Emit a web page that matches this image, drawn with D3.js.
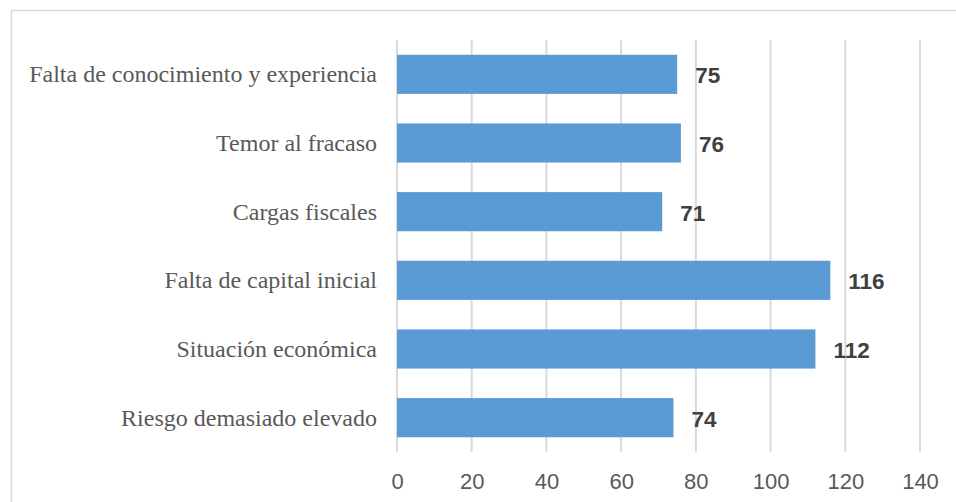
<!DOCTYPE html>
<html>
<head>
<meta charset="utf-8">
<script src="https://cdn.jsdelivr.net/npm/d3@7"></script>
<style>
  html, body { margin: 0; padding: 0; background: #fff; }
  svg { display: block; }
</style>
</head>
<body>
<svg id="chart" width="956" height="502"></svg>
<script>
const categories = [
  "Falta de conocimiento y experiencia",
  "Temor al fracaso",
  "Cargas fiscales",
  "Falta de capital inicial",
  "Situación económica",
  "Riesgo demasiado elevado"
];
const values = [75, 76, 71, 116, 112, 74];
const xTicks = [0, 20, 40, 60, 80, 100, 120, 140];

(function () {
const svg = d3.select("#chart");
const W = 956, H = 502;

// chart border
svg.append("rect")
  .attr("x", 11.5).attr("y", 10.5)
  .attr("width", W + 10).attr("height", H + 10)
  .attr("fill", "none").attr("stroke", "#D9D9D9").attr("stroke-width", 1.5);

const pL = 397, pR = 920, pT = 40, pB = 452;

const x = d3.scaleLinear().domain([0, 140]).range([pL, pR]);
const y = d3.scaleBand().domain(categories).range([pT, pB]).paddingInner(0.43).paddingOuter(0.215);

// gridlines
svg.append("g").selectAll("line").data(xTicks).join("line")
  .attr("x1", d => x(d)).attr("x2", d => x(d))
  .attr("y1", pT).attr("y2", pB)
  .attr("stroke", "#D9D9D9").attr("stroke-width", 2);

// bars
svg.append("g").selectAll("rect").data(values).join("rect")
  .attr("x", x(0))
  .attr("y", (d, i) => y(categories[i]))
  .attr("width", d => x(d) - x(0))
  .attr("height", y.bandwidth())
  .attr("fill", "#5B9BD5");

// value labels
svg.append("g").selectAll("text").data(values).join("text")
  .attr("x", d => x(d) + 18)
  .attr("y", (d, i) => y(categories[i]) + y.bandwidth() / 2 + 9)
  .attr("font-family", "Liberation Sans, Arial, sans-serif")
  .attr("font-weight", "bold")
  .attr("font-size", 22.5)
  .attr("fill", "#404040")
  .text(d => d);

// category labels (y axis)
const yAxis = d3.axisLeft(y).tickSize(0).tickPadding(0);
const gy = svg.append("g").attr("transform", `translate(${pL - 20},0)`).call(yAxis);
gy.select(".domain").remove();
gy.selectAll("text")
  .attr("font-family", "Liberation Serif, 'Times New Roman', serif")
  .attr("font-size", 24)
  .attr("fill", "#595959")
  .attr("dy", "0.33em");

// x axis tick labels
const xAxis = d3.axisBottom(x).tickValues(xTicks).tickSize(0).tickPadding(0);
const gx = svg.append("g").attr("transform", `translate(0,489)`).call(xAxis);
gx.select(".domain").remove();
gx.selectAll("text")
  .attr("font-family", "Liberation Sans, Arial, sans-serif")
  .attr("font-size", 22)
  .attr("fill", "#595959")
  .attr("dy", 0)
  .attr("y", 0);
})();
</script>
</body>
</html>
